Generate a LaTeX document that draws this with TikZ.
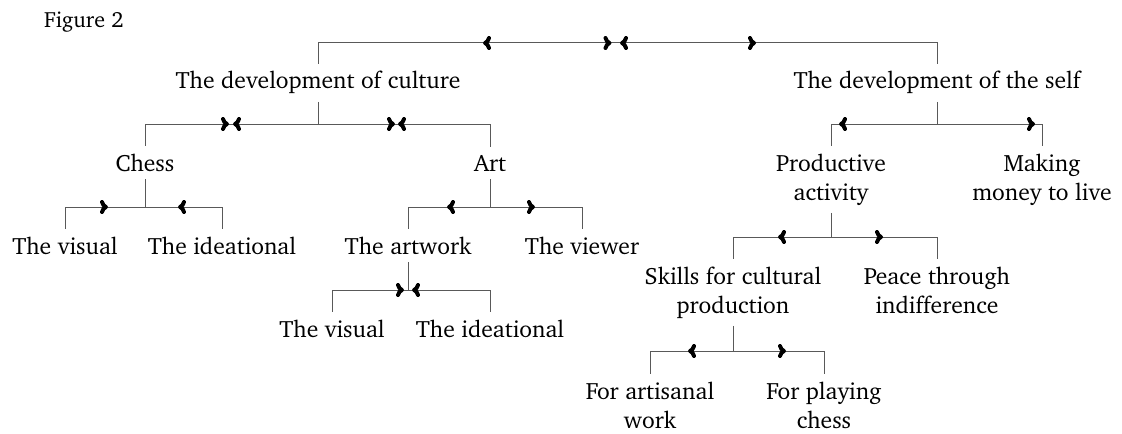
\documentclass[tikz,border=0pt]{standalone}
\usepackage[T1]{fontenc}
\renewcommand{\rmdefault}{bch}
\usetikzlibrary{arrows.meta,decorations.markings}

\tikzset{
  lbl/.style={font=\fontsize{11.8}{14.5}\selectfont, align=center, inner sep=1pt, outer sep=3pt, anchor=base},
  line/.style={draw=black!65, line width=0.5pt},
  away/.style={postaction={decorate,decoration={markings,mark=at position #1 with {\arrow[black]{>}}}}},
  back/.style={postaction={decorate,decoration={markings,mark=at position #1 with {\arrowreversed[black]{>}}}}},
}

\begin{document}
\begin{tikzpicture}[x=0.5pt, y=-0.5pt, >={Computer Modern Rightarrow[length=4pt, width=7pt, line width=2pt]}]
  \useasboundingbox (0,0) rectangle (1122,433);

  % labels (two-line labels sit on their last baseline)
  \node[lbl, anchor=base west, font=\fontsize{11}{13}\selectfont] (fig) at (36,28) {Figure 2};
  \node[lbl] (cul) at (318,89) {The development of culture};
  \node[lbl] (self) at (937,89) {The development of the self};
  \node[lbl] (chess) at (145,171) {Chess};
  \node[lbl] (art) at (490,171) {Art};
  \node[lbl] (cvis) at (65,254) {The visual};
  \node[lbl] (cide) at (222,254) {The ideational};
  \node[lbl] (artw) at (408,254) {The artwork};
  \node[lbl] (view) at (582,254) {The viewer};
  \node[lbl] (avis) at (332,337) {The visual};
  \node[lbl] (aide) at (490,337) {The ideational};
  \node[lbl] (prod) at (831,200) {Productive\\activity};
  \node[lbl] (money) at (1042,200) {Making\\money to live};
  \node[lbl] (skill) at (733,313) {Skills for cultural\\production};
  \node[lbl] (peace) at (937,313) {Peace through\\indifference};
  \node[lbl] (artis) at (650,428) {For artisanal\\work};
  \node[lbl] (play) at (824,428) {For playing\\chess};

  % junctions
  \coordinate (topM) at (616,43);
  \coordinate (culJ) at (318,124);
  \coordinate (selfJ) at (937,124);
  \coordinate (chessJ) at (145,207);
  \coordinate (artJ) at (490,207);
  \coordinate (artwJ) at (408,290);
  \coordinate (prodJ) at (831,237);
  \coordinate (skillJ) at (733,351);

  % culture <-> self
  \draw[line, away=66.5pt, back=2.25pt] (topM) -| (cul.north);
  \draw[line, back=2pt, away=70pt] (topM) -| (self.north);

  % culture
  \draw[line] (cul.south) -- (culJ);
  \draw[line, back=44.5pt, away=42.5pt] (culJ) -| (chess.north);
  \draw[line, away=38.5pt, back=40pt] (culJ) -| (art.north);

  \draw[line] (chess.south) -- (chessJ);
  \draw[line, back=18.5pt] (chessJ) -| (cvis.north);
  \draw[line, back=16.5pt] (chessJ) -| (cide.north);

  \draw[line] (art.south) -- (artJ);
  \draw[line, away=21.5pt] (artJ) -| (artw.north);
  \draw[line, away=22.5pt] (artJ) -| (view.north);

  \draw[line] (artw.south) -- (artwJ);
  \draw[line, back=2pt] (artwJ) -| (avis.north);
  \draw[line, back=2pt] (artwJ) -| (aide.north);

  % self
  \draw[line] (self.south) -- (selfJ);
  \draw[line, away=49pt] (selfJ) -| (prod.north);
  \draw[line, away=49pt] (selfJ) -| (money.north);

  \draw[line] (prod.south) -- (prodJ);
  \draw[line, away=26.5pt] (prodJ) -| (skill.north);
  \draw[line, away=26pt] (prodJ) -| (peace.north);

  \draw[line] (skill.south) -- (skillJ);
  \draw[line, away=22.5pt] (skillJ) -| (artis.north);
  \draw[line, away=26.5pt] (skillJ) -| (play.north);
\end{tikzpicture}
\end{document}
